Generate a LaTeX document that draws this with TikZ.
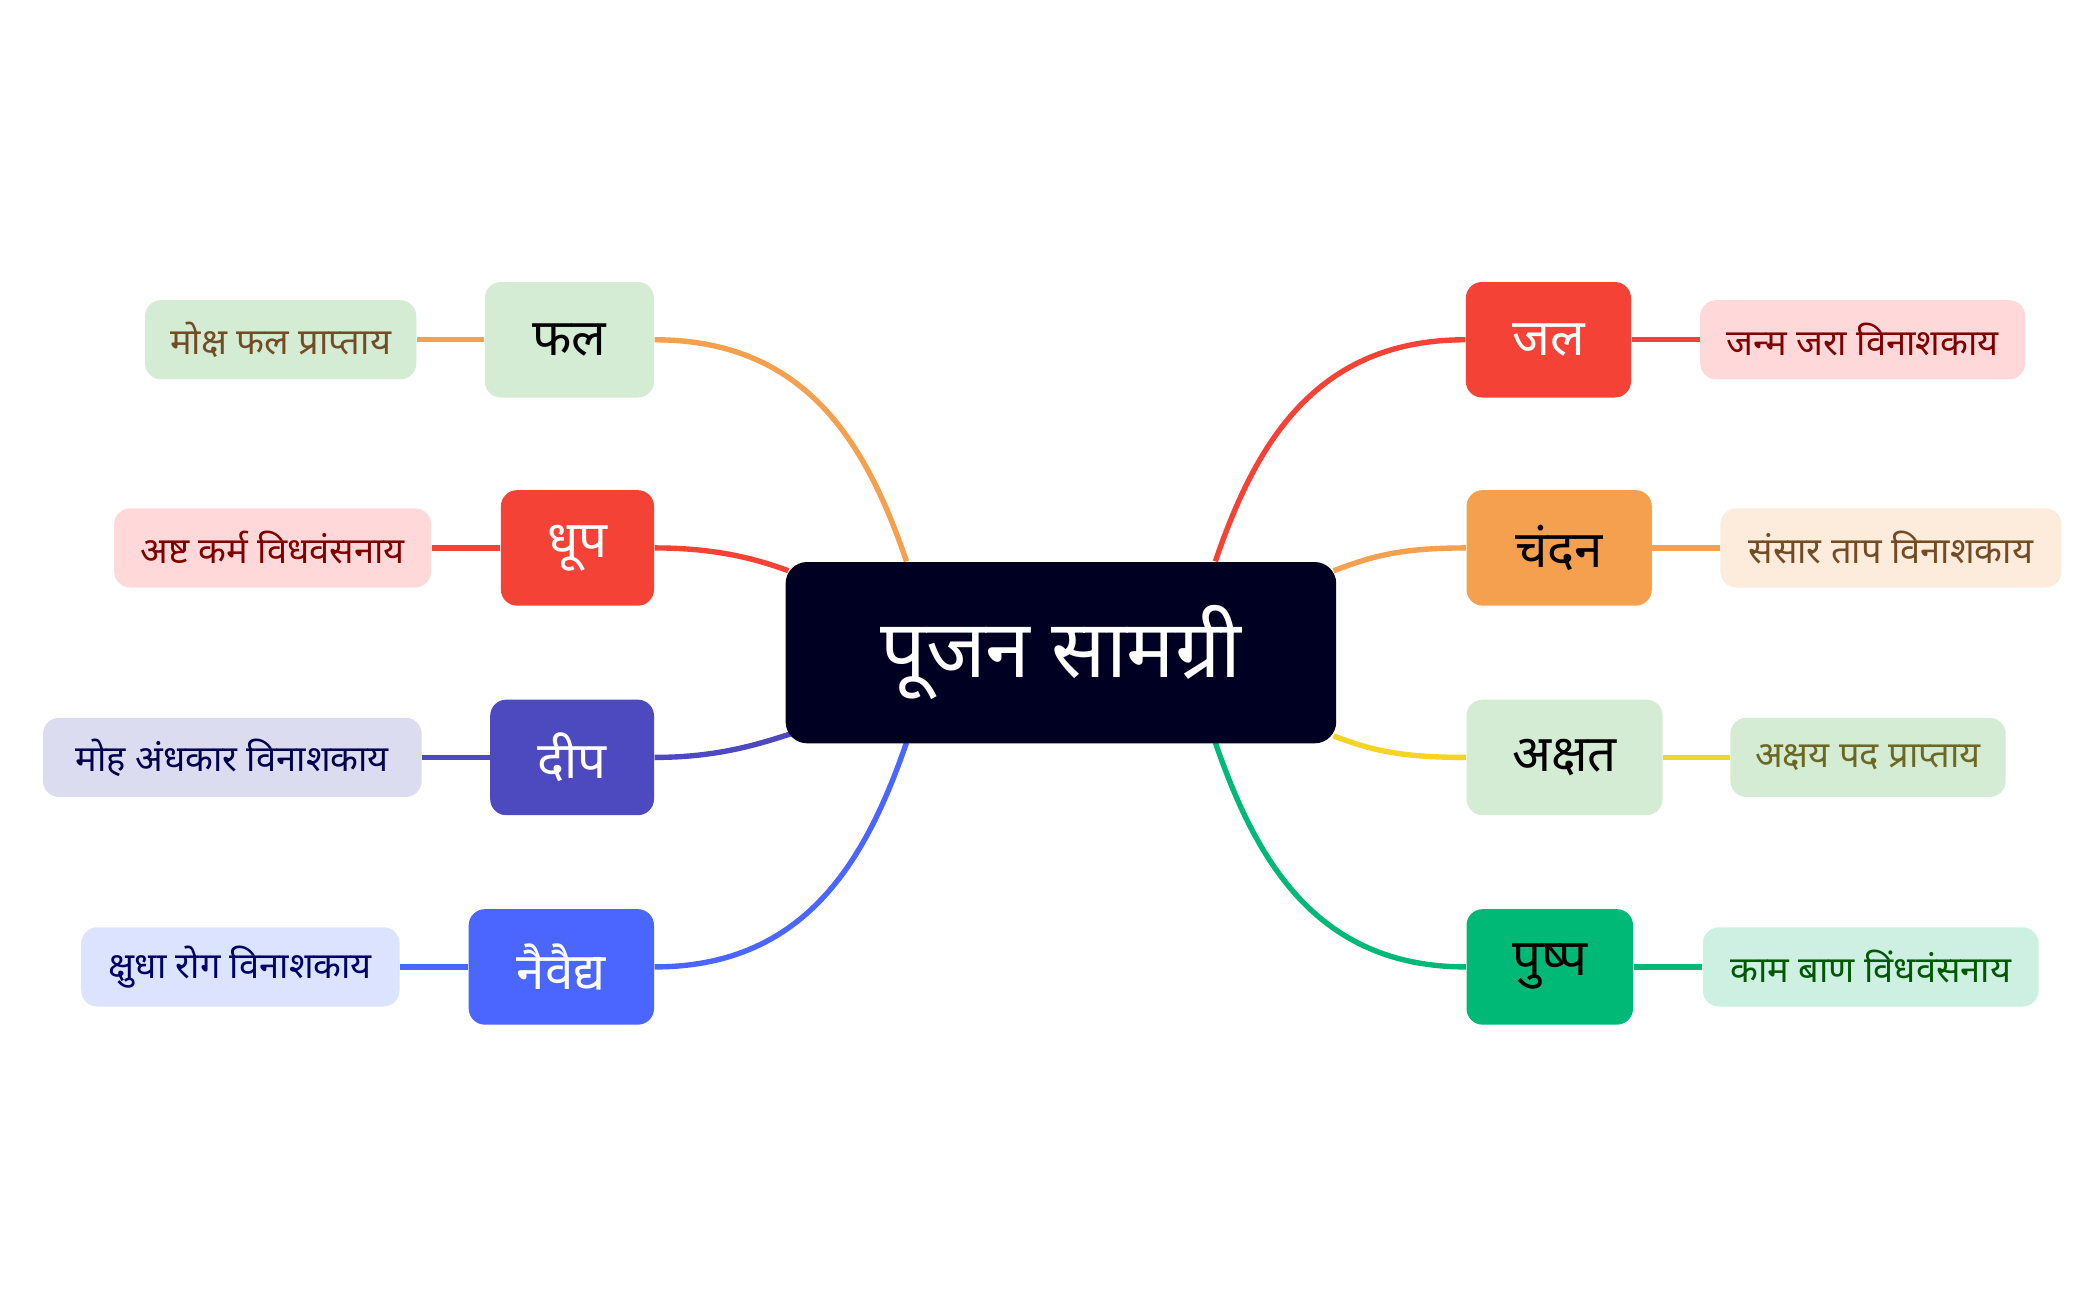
\documentclass[tikz,border=0pt]{standalone}
\usepackage{fontspec}
\newfontfamily\dev[Script=Devanagari]{Noto Sans}
\usetikzlibrary{backgrounds}
\definecolor{cred}{HTML}{F44336}\definecolor{corange}{HTML}{F4A04E}
\definecolor{cindigo}{HTML}{4D49BE}\definecolor{cblue}{HTML}{4A66FF}
\definecolor{cgreen}{HTML}{00B977}\definecolor{cyellow}{HTML}{F5D327}
\definecolor{lgreen}{HTML}{D3ECD3}\definecolor{lpink}{HTML}{FFD9D9}
\definecolor{llav}{HTML}{DCDCF0}\definecolor{lblue}{HTML}{DCE3FF}
\definecolor{lpeach}{HTML}{FDEBDB}\definecolor{lmint}{HTML}{CDF0E2}
\definecolor{cnavy}{HTML}{000022}
\tikzset{
 br/.style={rounded corners=6pt,inner sep=0pt,font=\dev\fontsize{19}{22}\selectfont},
 lf/.style={rounded corners=6pt,inner sep=0pt,font=\dev\fontsize{13.5}{16}\selectfont},
 ln/.style={line width=2pt}
}
\begin{document}
\begin{tikzpicture}[x=0.5pt,y=-0.5pt]
\useasboundingbox (0,0) rectangle (1560,968);
\node[rounded corners=8pt,fill=cnavy,text=white,minimum width=205pt,minimum height=67.5pt,font=\dev\fontsize{30}{34}\selectfont] (c) at (790,486) {पूजन सामग्री};
\coordinate (c1) at (675,418); \coordinate (c2) at (587,425);
\coordinate (c3) at (590,546); \coordinate (c4) at (675,553);
\coordinate (c5) at (905,418); \coordinate (c6) at (993,425);
\coordinate (c7) at (993,548); \coordinate (c8) at (905,553);
% left
\node[br,fill=lgreen,minimum width=63pt,minimum height=43pt] (b1) at (424,253) {फल};
\node[br,fill=cred,text=white,minimum width=57pt,minimum height=43pt] (b2) at (430,408) {धूप};
\node[br,fill=cindigo,text=white,minimum width=61pt,minimum height=43pt] (b3) at (426,564) {दीप};
\node[br,fill=cblue,text=white,minimum width=69pt,minimum height=43pt] (b4) at (418,720) {नैवैद्य};
\node[lf,fill=lgreen,text=brown!60!black,minimum width=101pt,minimum height=29.5pt] (l1) at (209,253) {मोक्ष फल प्राप्ताय};
\node[lf,fill=lpink,text=red!50!black,minimum width=118pt,minimum height=29.5pt] (l2) at (203,408) {अष्ट कर्म विधवंसनाय};
\node[lf,fill=llav,text=cnavy!80!blue,minimum width=141pt,minimum height=29.5pt] (l3) at (173,564) {मोह अंधकार विनाशकाय};
\node[lf,fill=lblue,text=blue!40!black,minimum width=118.5pt,minimum height=29.5pt] (l4) at (179,720) {क्षुधा रोग विनाशकाय};
% right
\node[br,fill=cred,text=white,minimum width=61.5pt,minimum height=43pt] (b5) at (1153,253) {जल};
\node[br,fill=corange,minimum width=69pt,minimum height=43pt] (b6) at (1161,408) {चंदन};
\node[br,fill=lgreen,minimum width=73pt,minimum height=43pt] (b7) at (1165,564) {अक्षत};
\node[br,fill=cgreen,minimum width=62pt,minimum height=43pt] (b8) at (1154,720) {पुष्प};
\node[lf,fill=lpink,text=red!50!black,minimum width=121pt,minimum height=29.5pt] (l5) at (1387,253) {जन्म जरा विनाशकाय};
\node[lf,fill=lpeach,text=brown!60!black,minimum width=127pt,minimum height=29.5pt] (l6) at (1408,408) {संसार ताप विनाशकाय};
\node[lf,fill=lgreen,text=olive!70!black,minimum width=102.5pt,minimum height=29.5pt] (l7) at (1391,564) {अक्षय पद प्राप्ताय};
\node[lf,fill=lmint,text=green!35!black,minimum width=125pt,minimum height=29.5pt] (l8) at (1393,720) {काम बाण विंधवंसनाय};
\begin{scope}[on background layer]
\draw[ln,corange] (b1.east) .. controls (600,253) and (645,330) .. (c1);
\draw[ln,cred] (b2.east) .. controls (530,408) and (560,415) .. (c2);
\draw[ln,cindigo] (b3.east) .. controls (530,564) and (560,556) .. (c3);
\draw[ln,cblue] (b4.east) .. controls (600,720) and (645,640) .. (c4);
\draw[ln,cred] (b5.west) .. controls (980,253) and (935,330) .. (c5);
\draw[ln,corange] (b6.west) .. controls (1040,408) and (1020,415) .. (c6);
\draw[ln,cyellow] (b7.west) .. controls (1040,564) and (1020,558) .. (c7);
\draw[ln,cgreen] (b8.west) .. controls (980,720) and (935,640) .. (c8);
\draw[ln,corange] (b1) -- (l1); \draw[ln,cred] (b2) -- (l2);
\draw[ln,cindigo] (b3) -- (l3); \draw[ln,cblue] (b4) -- (l4);
\draw[ln,cred] (b5) -- (l5); \draw[ln,corange] (b6) -- (l6);
\draw[ln,cyellow] (b7) -- (l7); \draw[ln,cgreen] (b8) -- (l8);
\end{scope}
\end{tikzpicture}
\end{document}
